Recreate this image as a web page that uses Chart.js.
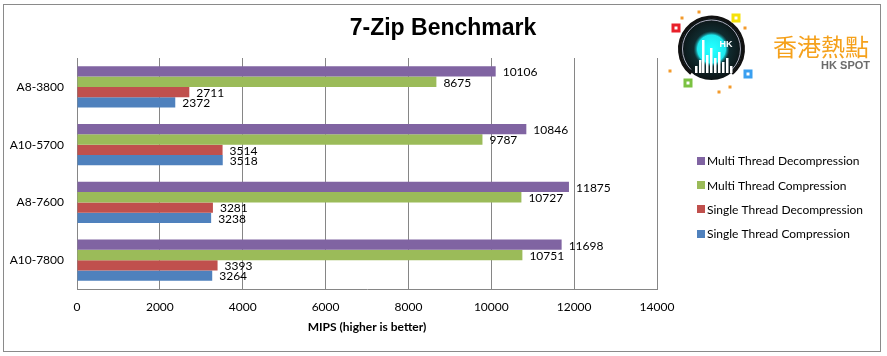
<!DOCTYPE html>
<html><head><meta charset="utf-8">
<script src="https://cdn.jsdelivr.net/npm/chart.js@4"></script>
<style>html,body{margin:0;padding:0;background:#fff}#wrap{width:887px;height:356px;position:relative}</style>
</head><body><div id="wrap"><canvas id="c" width="887" height="356"></canvas></div>
<script>
const categories = ['A8-3800', 'A10-5700', 'A8-7600', 'A10-7800'];
const seriesNames = ['Multi Thread Decompression', 'Multi Thread Compression', 'Single Thread Decompression', 'Single Thread Compression'];
const multiThreadDecompression = [10106, 10846, 11875, 11698];
const multiThreadCompression = [8675, 9787, 10727, 10751];
const singleThreadDecompression = [2711, 3514, 3281, 3393];
const singleThreadCompression = [2372, 3518, 3238, 3264];
const xTickValues = [0, 2000, 4000, 6000, 8000, 10000, 12000, 14000];
const chartTitle = '7-Zip Benchmark';
const axisTitle = 'MIPS (higher is better)';
const logoText = '香港熱點';
const logoSub = 'HK SPOT';

const colors = ['#8064A2', '#9BBB59', '#C0504D', '#4F81BD'];
const seriesValues = [multiThreadDecompression, multiThreadCompression, singleThreadDecompression, singleThreadCompression];
const LABEL_FONT = '12px Lato';

const framePlugin = {
  id: 'frame',
  beforeDraw(chart) {
    const ctx = chart.ctx;
    ctx.save();
    ctx.fillStyle = '#fff';
    ctx.fillRect(0, 0, chart.width, chart.height);
    ctx.strokeStyle = '#8a8a8a';
    ctx.lineWidth = 1;
    ctx.strokeRect(3.5, 4.5, 877, 347);
    // title
    ctx.fillStyle = '#000';
    ctx.font = 'bold 23px "Liberation Sans"';
    ctx.textAlign = 'center';
    ctx.textBaseline = 'middle';
    ctx.fillText(chartTitle, 443, 29);
    ctx.restore();
  }
};

const valueLabels = {
  id: 'valueLabels',
  afterDatasetsDraw(chart) {
    const ctx = chart.ctx;
    ctx.save();
    ctx.font = LABEL_FONT;
    ctx.fillStyle = '#000';
    ctx.textBaseline = 'middle';
    ctx.textAlign = 'left';
    chart.data.datasets.forEach((ds, i) => {
      const meta = chart.getDatasetMeta(i);
      meta.data.forEach((bar, j) => {
        ctx.fillText(String(ds.data[j]), bar.x + 7, bar.y + 1);
      });
    });
    ctx.restore();
  }
};

const sideLegend = {
  id: 'sideLegend',
  afterDraw(chart) {
    const ctx = chart.ctx;
    ctx.save();
    ctx.font = LABEL_FONT;
    ctx.textBaseline = 'middle';
    ctx.textAlign = 'left';
    chart.data.datasets.forEach((ds, i) => {
      const y = 161 + i * 24.2;
      ctx.fillStyle = ds.backgroundColor;
      ctx.fillRect(697, Math.round(y - 4), 8, 8);
      ctx.fillStyle = '#000';
      ctx.fillText(ds.label, 707, y + 0.5);
    });
    ctx.restore();
  }
};

const logoPlugin = {
  id: 'logo',
  afterDraw(chart) {
    const ctx = chart.ctx;
    ctx.save();
    const cx = 711.5, cy = 49;
    const g = ctx.createRadialGradient(cx, cy, 4, cx, cy, 31);
    g.addColorStop(0, '#14444a');
    g.addColorStop(1, '#0c1416');
    ctx.fillStyle = g;
    ctx.beginPath(); ctx.arc(cx, cy, 31, 0, Math.PI * 2); ctx.fill();
    const g2 = ctx.createRadialGradient(cx, cy, 2, cx, cy, 18);
    g2.addColorStop(0, '#2ff');
    g2.addColorStop(0.75, '#1ee8ee');
    g2.addColorStop(1, 'rgba(20,120,130,0)');
    ctx.fillStyle = g2;
    ctx.beginPath(); ctx.arc(cx, cy, 18, 0, Math.PI * 2); ctx.fill();
    ctx.strokeStyle = '#111';
    ctx.lineWidth = 3;
    ctx.beginPath(); ctx.arc(cx, cy, 32, 0.72 * Math.PI, 0.28 * Math.PI); ctx.stroke();
    ctx.strokeStyle = '#aab';
    ctx.lineWidth = 1;
    ctx.beginPath(); ctx.arc(cx, cy, 29, 0.75 * Math.PI, 0.25 * Math.PI); ctx.stroke();
    ctx.fillStyle = '#fff';
    const bld = [[695, 66], [699, 60], [702, 40], [706, 55], [710, 48], [714, 58], [718, 52], [722, 62], [726, 58], [730, 66]];
    bld.forEach(([x, top]) => ctx.fillRect(x, top, 2.5, 73 - top));
    ctx.fillStyle = '#fff';
    ctx.font = 'bold 9px "Liberation Sans"';
    ctx.textAlign = 'center';
    ctx.textBaseline = 'middle';
    ctx.fillText('HK', 726, 45);
    const sq = (x, y, c) => {
      ctx.fillStyle = c; ctx.fillRect(x - 4.5, y - 4.5, 9, 9);
      ctx.fillStyle = '#fff'; ctx.fillRect(x - 1.5, y - 1.5, 3, 3);
    };
    sq(676, 28, '#e8202a'); sq(736, 18, '#f5e10a'); sq(748, 74, '#3a9ff0'); sq(688, 83, '#7bc242');
    ctx.fillStyle = '#f39a2b';
    [[682, 18], [699, 12], [745, 28], [670, 71], [719, 92], [730, 87]].forEach(([x, y]) => {
      ctx.fillRect(x - 1.5, y - 1.5, 3, 3);
    });
    ctx.fillStyle = '#f5a11c';
    ctx.font = '24px "Noto Sans CJK TC"';
    ctx.textAlign = 'left';
    ctx.textBaseline = 'middle';
    ctx.fillText(logoText, 773, 47);
    ctx.fillStyle = '#6b6b6b';
    ctx.font = 'bold 11px "Liberation Sans"';
    ctx.textAlign = 'right';
    ctx.fillText(logoSub, 870, 66);
    ctx.restore();
  }
};

new Chart(document.getElementById('c'), {
  type: 'bar',
  data: {
    labels: categories,
    datasets: seriesNames.map((name, i) => ({
      label: name,
      data: seriesValues[i],
      backgroundColor: colors[i],
      borderWidth: 0,
      categoryPercentage: 0.715,
      barPercentage: 1.0
    }))
  },
  options: {
    indexAxis: 'y',
    responsive: false,
    devicePixelRatio: 1,
    animation: false,
    layout: { padding: { top: 58, right: 230, bottom: 0, left: 0 } },
    plugins: {
      legend: { display: false },
      tooltip: { enabled: false },
      title: { display: false }
    },
    scales: {
      x: {
        min: 0, max: 14000,
        afterBuildTicks(scale) { scale.ticks = xTickValues.map(v => ({ value: v })); },
        afterFit(scale) { scale.height = 67; },
        grid: { color: '#868686', drawTicks: false },
        border: { color: '#868686' },
        ticks: { color: '#000', font: { family: 'Lato', size: 12 }, padding: 11, callback: (v) => String(v) },
        title: {
          display: true, text: axisTitle, color: '#000',
          font: { family: 'Lato', size: 12, weight: 'bold' },
          padding: { top: 0, bottom: 22 }
        }
      },
      y: {
        afterFit(scale) { scale.width = 77; },
        grid: { display: false, drawTicks: false },
        border: { color: '#868686' },
        ticks: { color: '#000', font: { family: 'Lato', size: 12 }, padding: 13 }
      }
    }
  },
  plugins: [framePlugin, valueLabels, sideLegend, logoPlugin]
});
</script>
</body></html>
